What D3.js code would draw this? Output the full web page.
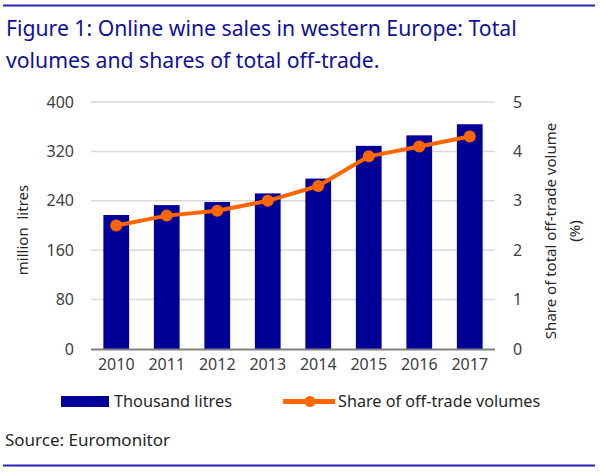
<!DOCTYPE html>
<html><head><meta charset="utf-8">
<script src="https://cdn.jsdelivr.net/npm/d3@7"></script>
<style>
html,body{margin:0;padding:0;background:#fff;}
svg{display:block;font-family:"Noto Sans","Open Sans",sans-serif;}
</style></head>
<body><svg id="c" width="600" height="475"></svg>
<script>
const years = ["2010","2011","2012","2013","2014","2015","2016","2017"];
const volumes = [217, 233, 238, 252, 276, 329, 346, 364];
const shares = [2.5, 2.7, 2.8, 3.0, 3.3, 3.9, 4.1, 4.3];
const leftTicks = [0, 80, 160, 240, 320, 400];
const rightTicks = [0, 1, 2, 3, 4, 5];
const titleLines = ["Figure 1: Online wine sales in western Europe: Total", "volumes and shares of total off-trade."];
const seriesNames = ["Thousand litres", "Share of off-trade volumes"];

const svg = d3.select("#c");
const blue = "#000099", orange = "#ff6600", txt = "#404040", titleCol = "#10109a";

svg.append("line").attr("x1",3).attr("x2",595).attr("y1",5.5).attr("y2",5.5).attr("stroke","#2626b0").attr("stroke-width",2);
svg.append("line").attr("x1",3).attr("x2",595).attr("y1",465.5).attr("y2",465.5).attr("stroke","#2626b0").attr("stroke-width",2);

svg.selectAll("text.title").data(titleLines).join("text").attr("class","title")
  .attr("x",6).attr("y",(d,i)=>36+i*32).attr("fill",titleCol).attr("font-size",21.2).text(d=>d);

const x = d3.scaleBand().domain(years).range([91,495]).paddingInner(0.49).paddingOuter(0.245);
const y = d3.scaleLinear().domain([0,400]).range([349,102]);
const y2 = d3.scaleLinear().domain([0,5]).range([349,102]);

// grid
svg.append("g").selectAll("line").data(leftTicks.filter(d=>d>0)).join("line")
  .attr("x1",91).attr("x2",495).attr("y1",d=>y(d)).attr("y2",d=>y(d))
  .attr("stroke","#d9d9d9").attr("stroke-width",1.5);

// left axis
const la = svg.append("g").attr("transform","translate(91,0)")
  .call(d3.axisLeft(y).tickValues(leftTicks).tickSize(0).tickPadding(17));
la.select(".domain").remove();
la.selectAll("text").attr("font-size",16).attr("fill",txt).attr("font-family","Noto Sans, sans-serif");

const ra = svg.append("g").attr("transform","translate(495,0)")
  .call(d3.axisRight(y2).tickValues(rightTicks).tickFormat(d3.format("d")).tickSize(0).tickPadding(18));
ra.select(".domain").remove();
ra.selectAll("text").attr("font-size",16).attr("fill",txt).attr("font-family","Noto Sans, sans-serif");

// bars
svg.append("g").selectAll("rect").data(years).join("rect")
  .attr("x",d=>x(d)).attr("width",x.bandwidth())
  .attr("y",(d,i)=>y(volumes[i])).attr("height",(d,i)=>y(0)-y(volumes[i]))
  .attr("fill",blue);

// baseline
svg.append("line").attr("x1",91).attr("x2",495).attr("y1",349.5).attr("y2",349.5).attr("stroke","#808080").attr("stroke-width",2);

// x axis labels
const xa = svg.append("g").attr("transform","translate(0,349)")
  .call(d3.axisBottom(x).tickSize(0).tickPadding(10));
xa.select(".domain").remove();
xa.selectAll("text").attr("font-size",16).attr("fill",txt).attr("font-family","Noto Sans, sans-serif");

// line
const pts = years.map((d,i)=>[x(d)+x.bandwidth()/2, y2(shares[i])]);
svg.append("path").attr("d",d3.line()(pts)).attr("fill","none").attr("stroke",orange).attr("stroke-width",4).attr("stroke-linejoin","round");
svg.append("g").selectAll("circle").data(pts).join("circle")
  .attr("cx",d=>d[0]).attr("cy",d=>d[1]).attr("r",6).attr("fill",orange);

// axis titles
svg.append("text").attr("transform","translate(28,230) rotate(-90)").attr("text-anchor","middle")
  .attr("font-size",15).attr("fill","#262626").attr("xml:space","preserve").text("million  litres");
const rt = svg.append("text").attr("transform","translate(556,231) rotate(-90)").attr("text-anchor","middle")
  .attr("font-size",15).attr("fill","#262626");
rt.append("tspan").attr("x",0).attr("dy",0).text("Share of total off-trade volume");
rt.append("tspan").attr("x",0).attr("dy",24).text("(%)");

// legend
const lg = svg.append("g");
lg.append("rect").attr("x",61).attr("y",396).attr("width",48).attr("height",11).attr("fill",blue);
lg.append("text").attr("x",114).attr("y",407).attr("font-size",16.3).attr("fill","#262626").text(seriesNames[0]);
lg.append("line").attr("x1",283).attr("x2",335).attr("y1",401.5).attr("y2",401.5).attr("stroke",orange).attr("stroke-width",5);
lg.append("circle").attr("cx",310).attr("cy",401.5).attr("r",5.5).attr("fill",orange);
lg.append("text").attr("x",338).attr("y",407).attr("font-size",16.2).attr("fill","#262626").text(seriesNames[1]);

svg.append("text").attr("x",5).attr("y",446).attr("font-size",17).attr("fill","#262626").text("Source: Euromonitor");
</script></body></html>
